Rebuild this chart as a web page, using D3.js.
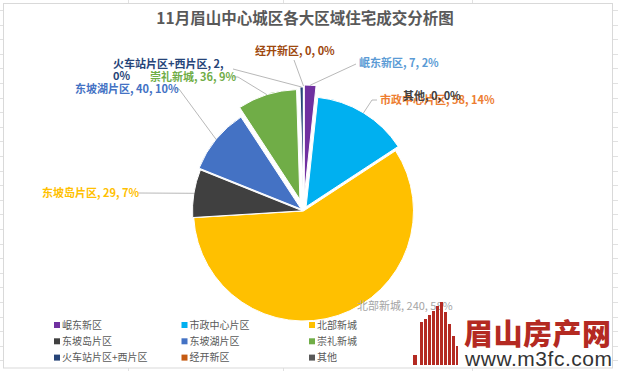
<!DOCTYPE html>
<html>
<head>
<meta charset="utf-8">
<script src="https://cdn.jsdelivr.net/npm/d3@7"></script>
<style>
  body { margin: 0; background: #fff; }
  svg { display: block; }
</style>
</head>
<body>
<script>
(function(){
    "use strict";

    // 11月 各区域成交套数
    const regions = ["岷东新区", "市政中心片区", "北部新城", "东坡岛片区", "东坡湖片区",
                     "崇礼新城", "火车站片区+西片区", "经开新区", "其他"];
    const deals = [7, 58, 240, 29, 40, 36, 2, 0, 0];

    const sliceColors = ["#7030A0", "#00B0F0", "#FFC000", "#404040", "#4472C4",
                         "#70AD47", "#264478", "#C55A11", "#595959"];
    const labelColors = ["#5B9BD5", "#ED7D31", "#A5A5A5", "#FFC000", "#4472C4",
                         "#70AD47", "#264478", "#9E480E", "#404040"];

    // how far each slice is pulled out of the pie
    const explode = {"岷东新区": 16, "市政中心片区": 5, "东坡岛片区": 1, "东坡湖片区": 3,
                     "崇礼新城": 12, "火车站片区+西片区": 14, "经开新区": 15};

    // hand placed data labels (like in the excel chart) + leader line start
    const labelPos = {
        "经开新区":       {x: 255, y: 51, line: [[294, 60]]},
        "岷东新区":       {x: 359, y: 63, line: [[356, 64]]},
        "火车站片区+西片区": {x: 113, y: 64, line: [[233, 69]], wrap: true},
        "崇礼新城":       {x: 150, y: 77, line: [[232, 77], [238, 77]]},
        "东坡湖片区":     {x: 75, y: 89, line: [[175, 89], [179, 89]]},
        "东坡岛片区":     {x: 42, y: 193, line: [[138, 193]]},
        "市政中心片区":   {x: 380, y: 100, line: [[377, 100], [372, 100]]},
        "其他":           {x: 403, y: 96},
        "北部新城":       {x: 357, y: 306, light: true}
    };

    const width = 618, height = 371;
    const cx = 303.5, cy = 211, radius = 110;
    const font = "'Noto Sans CJK SC', 'Noto Sans', sans-serif";

    const data = regions.map((name, i) => ({name: name, value: deals[i], i: i}));
    const total = d3.sum(deals);

    const svg = d3.select("body").append("svg")
        .attr("width", width)
        .attr("height", height)
        .style("font-family", font);

    // spreadsheet grid around the chart
    const grid = svg.append("g").attr("stroke", "#E1E1E1").attr("stroke-width", 1);
    d3.range(10, height, 14.6).forEach(y => {
        grid.append("line").attr("x1", 0).attr("x2", 3).attr("y1", Math.round(y) + 0.5).attr("y2", Math.round(y) + 0.5);
        grid.append("line").attr("x1", 613).attr("x2", width).attr("y1", Math.round(y) + 0.5).attr("y2", Math.round(y) + 0.5);
    });
    [128, 283, 472].forEach(x => {
        grid.append("line").attr("x1", x + 0.5).attr("x2", x + 0.5).attr("y1", 0).attr("y2", 3);
        grid.append("line").attr("x1", x + 0.5).attr("x2", x + 0.5).attr("y1", 368).attr("y2", height);
    });

    svg.append("rect")
        .attr("x", 3.5).attr("y", 3.5)
        .attr("width", 609).attr("height", 364.5)
        .attr("fill", "#fff")
        .attr("stroke", "#D9D9D9");

    svg.append("text")
        .attr("x", 305).attr("y", 24)
        .attr("text-anchor", "middle")
        .attr("font-size", "15.5px")
        .attr("font-weight", "bold")
        .attr("fill", "#595959")
        .text("11月眉山中心城区各大区域住宅成交分析图");

    const pie = d3.pie().sort(null).value(d => d.value);
    const arcs = pie(data);
    const arc = d3.arc().innerRadius(0).outerRadius(radius);

    function offset(d) {
        let mid = (d.startAngle + d.endAngle) / 2;
        return d3.pointRadial(mid, explode[d.data.name] || 0);
    }

    const chart = svg.append("g").attr("transform", "translate(" + cx + "," + cy + ")");

    chart.selectAll(".slice")
        .data(arcs)
        .enter()
        .append("path")
            .attr("class", "slice")
            .attr("d", arc)
            .attr("transform", d => "translate(" + offset(d) + ")")
            .attr("fill", d => sliceColors[d.data.i])
            .attr("stroke", "#fff")
            .attr("stroke-width", 1);

    // leader lines
    arcs.forEach(d => {
        let pos = labelPos[d.data.name];
        if (!pos || !pos.line) return;
        let mid = (d.startAngle + d.endAngle) / 2;
        let end = d3.pointRadial(mid, radius + (explode[d.data.name] || 0));
        let pts = pos.line.concat([[cx + end[0], cy + end[1]]]);
        svg.append("path")
            .attr("d", d3.line()(pts))
            .attr("fill", "none")
            .attr("stroke", "#A6A6A6")
            .attr("stroke-width", 0.8);
    });

    // data labels
    arcs.forEach(d => {
        let pos = labelPos[d.data.name];
        let pct = Math.round(d.data.value / total * 100) + "%";
        let t = svg.append("text")
            .attr("x", pos.x).attr("y", pos.y)
            .attr("dy", "0.35em")
            .attr("font-size", "11px")
            .attr("font-weight", pos.light ? "normal" : "bold")
            .attr("fill", labelColors[d.data.i]);
        if (pos.wrap) {
            t.text(d.data.name + ", " + d.data.value + ",");
            svg.append("text")
                .attr("x", pos.x).attr("y", pos.y + 12)
                .attr("dy", "0.35em")
                .attr("font-size", "11px")
                .attr("font-weight", "bold")
                .attr("fill", labelColors[d.data.i])
                .text(pct);
        } else {
            t.text(d.data.name + ", " + d.data.value + ", " + pct);
        }
    });

    // legend
    const legend = svg.append("g");
    data.forEach((d, i) => {
        let x = 57 + (i % 3) * 127.5;
        let y = 325 + Math.floor(i / 3) * 16.3;
        legend.append("rect")
            .attr("x", x - 3).attr("y", y - 3)
            .attr("width", 6).attr("height", 6)
            .attr("fill", sliceColors[i]);
        legend.append("text")
            .attr("x", x + 5).attr("y", y)
            .attr("dy", "0.35em")
            .attr("font-size", "10px")
            .attr("fill", "#595959")
            .text(d.name);
    });

    // watermark logo (drawn over the 北部新城 label like the original)
    const logo = svg.append("g").attr("fill", "#B42A22");
    [[413, 355, 4], [420, 322, 3], [424, 319, 3], [428, 315, 3], [432, 311, 3],
     [436, 306, 3], [440, 302, 3], [444, 312, 3], [448, 324, 3], [452, 336, 3],
     [456, 346, 2]].forEach(b => {
        logo.append("rect")
            .attr("x", b[0]).attr("y", b[1])
            .attr("width", b[2]).attr("height", 365 - b[1]);
    });
    logo.append("text")
        .attr("x", 464).attr("y", 345)
        .attr("font-size", "29px")
        .attr("font-weight", "900")
        .attr("textLength", 147)
        .text("眉山房产网");
    svg.append("text")
        .attr("x", 465).attr("y", 366)
        .attr("font-family", "'Liberation Sans', Arial, sans-serif")
        .attr("font-size", "21px")
        .attr("textLength", 147)
        .attr("fill", "#333")
        .text("www.m3fc.com");
})()
</script>
</body>
</html>
